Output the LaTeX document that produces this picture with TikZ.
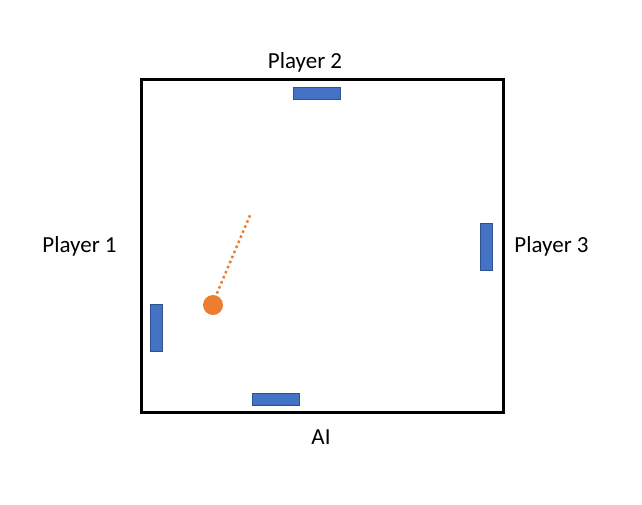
\documentclass[tikz,border=0pt]{standalone}
\usepackage{fontspec}
\setmainfont{Carlito}
\definecolor{paddlefill}{HTML}{4472C4}
\definecolor{paddleline}{HTML}{2F528F}
\definecolor{ballc}{HTML}{ED7D31}
\begin{document}
\begin{tikzpicture}[x=1pt,y=-1pt,
  paddle/.style={fill=paddlefill,draw=paddleline,line width=0.6pt,inner sep=0pt},
  lbl/.style={font=\fontsize{23}{25}\selectfont,anchor=base,inner sep=0pt}]
\useasboundingbox (0,0) rectangle (642,504);
\draw[line width=3pt] (141,79) rectangle (503,412);
\node[paddle,minimum width=47pt,minimum height=12pt] (p2) at (316.5,93) {};
\node[paddle,minimum width=12pt,minimum height=47pt] (p3) at (486,246.5) {};
\node[paddle,minimum width=12pt,minimum height=47pt] (p1) at (156,327.5) {};
\node[paddle,minimum width=47pt,minimum height=12pt] (ai) at (275.5,399) {};
\node[circle,fill=ballc,minimum size=20pt,inner sep=0pt] (ball) at (213,305) {};
\coordinate (aim) at (251,213);
\draw[ballc,line width=2.5pt,dash pattern=on 2.5pt off 3pt] (ball.68) ++(0,-2) -- (aim);
\node[lbl] (l2) at (305,68.5) {Player 2};
\node[lbl] (l1) at (79.5,252.3) {Player 1};
\node[lbl] (l3) at (551.5,252.3) {Player 3};
\node[lbl] (lai) at (321,444) {AI};
\end{tikzpicture}
\end{document}
